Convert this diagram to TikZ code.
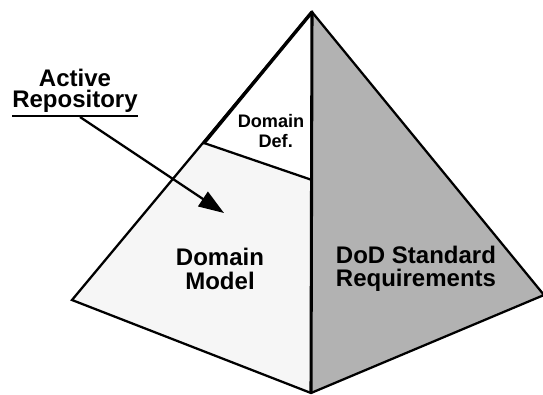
\documentclass[tikz,border=0pt]{standalone}
\usepackage{fontspec}
\setmainfont{Liberation Sans}
\usetikzlibrary{arrows.meta}
\definecolor{lightface}{gray}{0.965}
\definecolor{darkface}{gray}{0.70}
\tikzset{
  x=0.75pt,y=-0.75pt,
  edge/.style={draw=black,line width=1.7pt,line join=miter},
  thick edge/.style={draw=black,line width=2.6pt,line cap=round},
  lab/.style={font=\bfseries\fontsize{18}{15.8}\selectfont,align=center,inner sep=0pt},
  big/.style={font=\bfseries\fontsize{18}{17.5}\selectfont,align=center,inner sep=0pt},
  small/.style={font=\bfseries\fontsize{13.6}{15}\selectfont,align=center,inner sep=0pt}
}
\begin{document}
\begin{tikzpicture}
\useasboundingbox (0,0) rectangle (543,394);
\coordinate (apex) at (312,12);
\coordinate (left) at (72,300);
\coordinate (bottom) at (311,393);
\coordinate (right) at (544,295);
\coordinate (ml) at (204,143);
\coordinate (mr) at (312,180);
\fill[lightface] (left) -- (ml) -- (mr) -- (bottom) -- cycle;
\fill[white] (apex) -- (ml) -- (mr) -- cycle;
\fill[darkface] (apex) -- (right) -- (bottom) -- cycle;
\draw[edge] (left) -- (apex) -- (right) -- (bottom) -- cycle;
\draw[thick edge] (apex) -- (ml);
\draw[edge,line width=2.3pt] (apex) -- (bottom);
\draw[edge] (ml) -- (mr);
\node[small] (def) at (271,131) {Domain\\\hspace*{7pt}Def.};
\node[big] (model) at (220,269) {Domain\\Model};
\node[big] (dod) at (416,269) {DoD Standard\\Requirements};
\node[lab] (rep) at (75,91) {Active\\Repository};
\coordinate (ua) at (12,116);
\coordinate (ub) at (138,116);
\coordinate (tail) at (80,117);
\draw[line width=2.2pt] (ua) -- (ub);
\coordinate (tip) at (224,213);
\draw[line width=1.7pt,-{Triangle[length=19pt,width=13pt]}] (tail) -- (tip);
\end{tikzpicture}
\end{document}
